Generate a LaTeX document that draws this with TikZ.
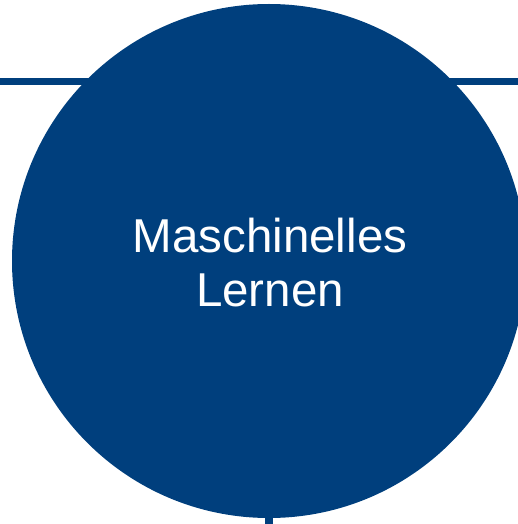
\documentclass[tikz,border=0pt]{standalone}
\usepackage{fontspec}
\setmainfont{Liberation Sans}
\definecolor{mlblue}{RGB}{0,63,125}
\begin{document}
\begin{tikzpicture}[x=1pt,y=-1pt,
  bar/.style={draw=mlblue,line width=7.5pt},
  lbl/.style={text=white,font=\fontsize{47.5}{54}\selectfont,anchor=base,inner sep=0pt}]
\useasboundingbox (0,0) rectangle (518,524);
\coordinate (lw) at (0,81.5);
\coordinate (le) at (518,81.5);
\coordinate (bs) at (269,500);
\coordinate (be) at (269,524);
\draw[bar] (lw) -- (le);
\draw[draw=mlblue,line width=8pt] (bs) -- (be);
\node[circle,fill=mlblue,minimum size=514pt,inner sep=0pt] (c) at (269,261) {};
\node[lbl] (t1) at (270,252) {Maschinelles};
\node[lbl] (t2) at (270,306) {Lernen};
\end{tikzpicture}
\end{document}
